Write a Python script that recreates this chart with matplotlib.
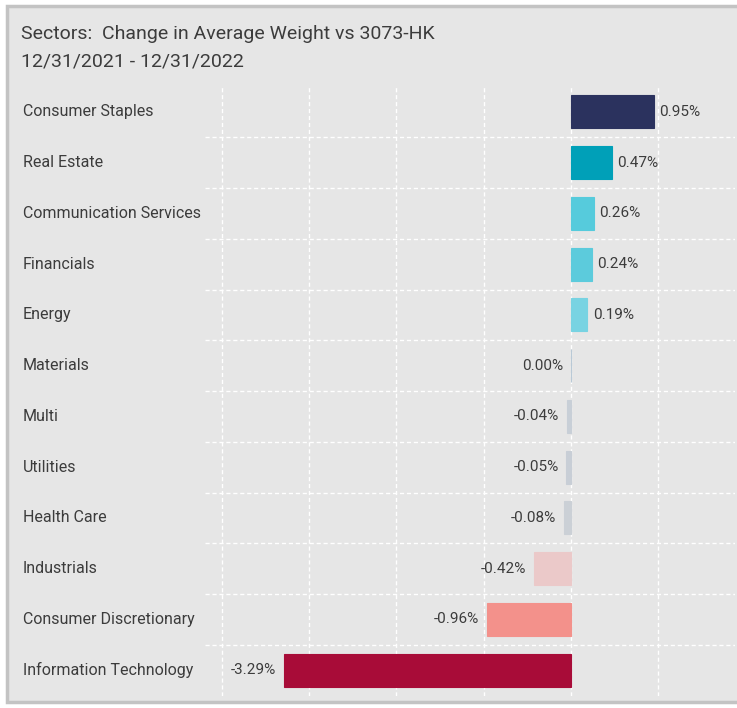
import numpy as np
import matplotlib.pyplot as plt
from matplotlib.patches import Rectangle

sectors = ['Consumer Staples', 'Real Estate', 'Communication Services', 'Financials',
           'Energy', 'Materials', 'Multi', 'Utilities', 'Health Care', 'Industrials',
           'Consumer Discretionary', 'Information Technology']
change = [0.95, 0.47, 0.26, 0.24, 0.19, 0.00, -0.04, -0.05, -0.08, -0.42, -0.96, -3.29]
bar_colors = ['#2b325e', '#00a0b8', '#56cbdc', '#5ccbdc', '#78d3e2', '#b9c9d6',
              '#c8cfd7', '#c8ced6', '#cbd0d6', '#ebc9c9', '#f3918b', '#a80c38']

bg = '#e6e6e6'
txt = '#3c3c3c'

fig = plt.figure(figsize=(7.37, 7.08), dpi=100)
fig.patch.set_facecolor('white')
# panel frame
fig.patches.append(Rectangle((7 / 737, 6 / 708), 1.0, 696 / 708, transform=fig.transFigure,
                             facecolor=bg, edgecolor='#c3c3c3', linewidth=2.5, zorder=-5))

fig.text(21 / 737, 1 - 34 / 708, 'Sectors:  Change in Average Weight vs 3073-HK',
         fontsize=14, color=txt, family='Roboto', va='center')
fig.text(21 / 737, 1 - 61 / 708, '12/31/2021 - 12/31/2022',
         fontsize=14, color=txt, family='Roboto', va='center')

ax = fig.add_axes([205 / 737, 12.5 / 708, 530 / 737, 609 / 708])
ax.patch.set_alpha(0)
y = np.arange(len(sectors))
ax.barh(y, change, height=0.65, color=bar_colors, edgecolor=bar_colors,
        linewidth=0.8, zorder=3)
ax.set_ylim(len(sectors) - 0.5, -0.5)
ax.set_xlim(-4.19, 1.88)

# grid
for gx in range(-4, 2):
    ax.axvline(gx, color='white', linestyle=(0, (3, 2)), linewidth=1, zorder=1)
for gy in range(len(sectors) - 1):
    ax.axhline(gy + 0.5, color='white', linestyle=(0, (3, 2)), linewidth=1, zorder=1)

# value labels
for i, v in enumerate(change):
    if v > 0:
        ax.text(v + 0.06, i, f'{v:.2f}%', va='center', ha='left', fontsize=11,
                color=txt, family='Roboto')
    else:
        ax.text(v - 0.09, i, f'{v:.2f}%', va='center', ha='right', fontsize=11,
                color=txt, family='Roboto')

# category labels on the left, outside the axes
for i, s in enumerate(sectors):
    ax.annotate(s, xy=(0, i), xycoords=('axes fraction', 'data'),
                xytext=(23 - 205, 0), textcoords='offset pixels',
                va='center', ha='left', fontsize=11.5, color=txt, family='Roboto',
                annotation_clip=False)

for sp in ax.spines.values():
    sp.set_visible(False)
ax.set_xticks([])
ax.set_yticks([])

fig.savefig('out.png', dpi=100, facecolor=fig.get_facecolor())
